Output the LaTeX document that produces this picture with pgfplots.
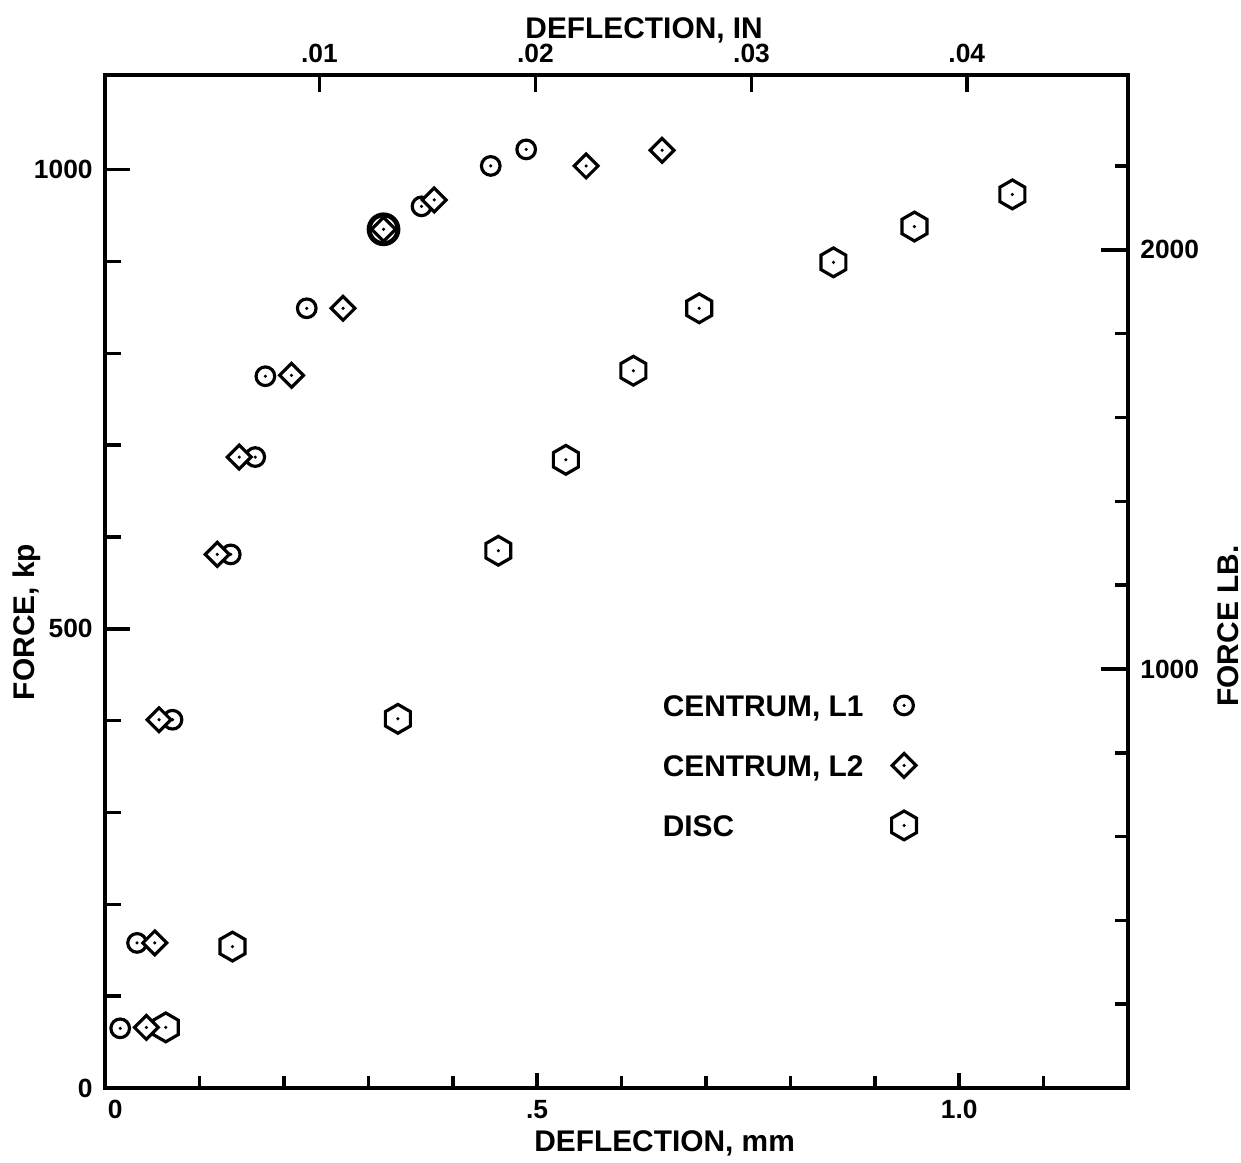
\documentclass[border=0pt]{standalone}
\usepackage{fontspec}
\setmainfont{Liberation Sans}
\usepackage{pgfplots}
\pgfplotsset{compat=1.18}

\newcommand\lab{\fontsize{8.5}{10}\selectfont\bfseries}
\newcommand\tck{\fontsize{7.5}{9}\selectfont\bfseries}

\pgfdeclareplotmark{cdot}{%
 \pgfpathcircle{\pgfpointorigin}{\pgfplotmarksize}%
 \pgfsetfillcolor{white}\pgfusepathqfillstroke
 \pgfsetfillcolor{black}%
 \pgfpathcircle{\pgfpointorigin}{0.5pt}\pgfusepathqfill}
\pgfdeclareplotmark{ddot}{%
 \pgfpathmoveto{\pgfqpoint{0pt}{\pgfplotmarksize}}%
 \pgfpathlineto{\pgfqpoint{\pgfplotmarksize}{0pt}}%
 \pgfpathlineto{\pgfqpoint{0pt}{-\pgfplotmarksize}}%
 \pgfpathlineto{\pgfqpoint{-\pgfplotmarksize}{0pt}}%
 \pgfpathclose
 \pgfsetfillcolor{white}\pgfusepathqfillstroke
 \pgfsetfillcolor{black}%
 \pgfpathcircle{\pgfpointorigin}{0.5pt}\pgfusepathqfill}
\pgfdeclareplotmark{hdot}{%
 \pgfpathmoveto{\pgfqpoint{0pt}{\pgfplotmarksize}}%
 \pgfpathlineto{\pgfqpoint{0.866\pgfplotmarksize}{0.5\pgfplotmarksize}}%
 \pgfpathlineto{\pgfqpoint{0.866\pgfplotmarksize}{-0.5\pgfplotmarksize}}%
 \pgfpathlineto{\pgfqpoint{0pt}{-\pgfplotmarksize}}%
 \pgfpathlineto{\pgfqpoint{-0.866\pgfplotmarksize}{-0.5\pgfplotmarksize}}%
 \pgfpathlineto{\pgfqpoint{-0.866\pgfplotmarksize}{0.5\pgfplotmarksize}}%
 \pgfpathclose
 \pgfsetfillcolor{white}\pgfusepathqfillstroke
 \pgfsetfillcolor{black}%
 \pgfpathcircle{\pgfpointorigin}{0.5pt}\pgfusepathqfill}

% deflection (mm), force (kp)
\pgfplotstableread{
x y
0.006 65
0.026 158
0.068 401
0.137 581
0.166 687
0.178 775
0.227 849
0.363 960
0.445 1004
0.487 1022
}\centrumA
\pgfplotstableread{
x y
0.318 935
}\centrumAb
\pgfplotstableread{
x y
0.037 66
0.047 158
0.052 401
0.121 581
0.147 687
0.209 776
0.270 849
0.318 935
0.378 967
0.558 1004
0.648 1021
}\centrumB
\pgfplotstableread{
x y
0.060 66
0.139 154
0.335 402
0.454 585
0.534 684
0.614 781
0.692 849
0.851 899
0.947 938
1.063 973
}\disc

\pgfplotsset{
 base/.style={scale only axis, width=10.23cm, height=10.13cm,
   xmin=-0.012, xmax=1.2, ymin=0, ymax=1103,
   every tick/.style={black, line width=1pt},
   tick label style={font=\tck},
   /pgf/number format/assume math mode=true},
 aux/.style={base, axis line style={draw=none}},
 sA/.style={only marks, black, mark=cdot, mark size=2.65pt, line width=0.9pt},
 sB/.style={only marks, black, mark=ddot, mark size=3.4pt, line width=0.9pt},
 sC/.style={only marks, black, mark=hdot, mark size=4.1pt, line width=0.9pt},
}

\begin{document}
\begin{tikzpicture}
% main axis: box, data, bottom ticks, legend
\begin{axis}[base, name=ax,
  axis line style={line width=1.1pt},
  xtick pos=bottom, ytick=\empty,
  xtick={0.5,1.0}, xticklabels={.5,1.0},
  minor xtick={0.1,0.2,0.3,0.4,0.6,0.7,0.8,0.9,1.1},
  extra x ticks={0}, extra x tick labels={0},
  extra x tick style={major tick length=0pt},
  major tick length=0.15cm, minor tick length=0.12cm,
  xlabel={DEFLECTION, mm},
  xlabel style={at={(axis description cs:0.547,-0.055)}, anchor=center, font=\lab},
  legend style={at={(axis cs:0.648,450)}, anchor=north west, draw=none, fill=none,
    inner sep=0pt, column sep=0.28cm, row sep=0pt,
    nodes={inner sep=0pt, text height=0.407cm, text depth=0.193cm, font=\lab}},
  legend cell align=left,
  legend plot pos=right,
  legend image code/.code={\draw[#1] plot coordinates {(0cm,0cm)};},
]
\addplot[sA, forget plot] table {\centrumA};
\addplot[sA, mark size=4.1pt, line width=1.4pt, forget plot] table {\centrumAb};
\addplot[sC, forget plot] table {\disc};
\addplot[sB, forget plot] table {\centrumB};
\addlegendimage{sA}
\addlegendentry{CENTRUM, L1}
\addlegendimage{sB}
\addlegendentry{CENTRUM, L2}
\addlegendimage{sC}
\addlegendentry{DISC}
\end{axis}
% left ticks
\begin{axis}[aux, xtick=\empty, ytick pos=left,
  ytick={0,500,1000}, yticklabels={0,500,1000},
  minor ytick={100,200,300,400,600,700,800,900},
  major tick length=0.25cm, minor tick length=0.16cm,
  ylabel={FORCE, kp},
  ylabel style={at={(axis description cs:-0.076,0.46)}, anchor=center, font=\lab},
]
\end{axis}
% top ticks (inches)
\begin{axis}[aux, axis x line*=top, ytick=\empty,
  xtick={0.242,0.498,0.754,1.009}, xticklabels={.01,.02,.03,.04},
  major tick length=0.17cm,
  xlabel={DEFLECTION, IN},
  xlabel style={at={(axis description cs:0.527,1.044)}, anchor=center, font=\lab},
]
\end{axis}
% right ticks (pounds)
\begin{axis}[aux, axis y line*=right, xtick=\empty,
  ytick={456.3,912.6}, yticklabels={1000,2000},
  minor ytick={91.3,182.5,273.8,365.0,547.6,638.8,730.1,821.3,1003.9},
  major tick length=0.27cm, minor tick length=0.13cm,
  ylabel={FORCE LB.},
  ylabel style={at={(axis description cs:1.098,0.456)}, anchor=center, font=\lab},
]
\end{axis}
\pgfresetboundingbox
\path[use as bounding box] ([shift={(-1.05cm,-0.74cm)}]ax.south west) rectangle ([shift={(1.13cm,0.75cm)}]ax.north east);
\end{tikzpicture}
\end{document}
